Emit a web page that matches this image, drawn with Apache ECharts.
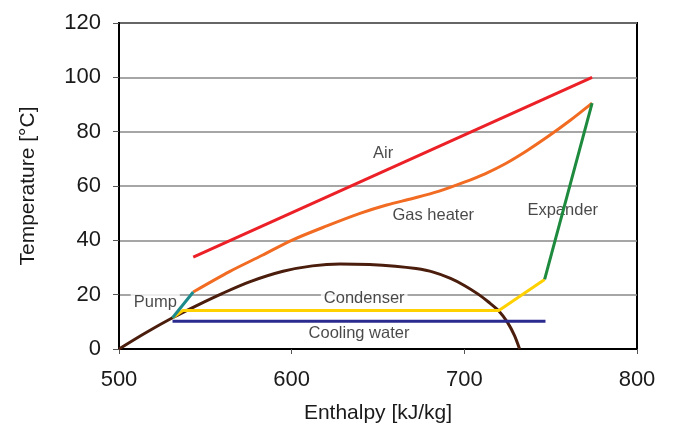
<!DOCTYPE html>
<html>
<head>
<meta charset="utf-8">
<script src="https://cdn.jsdelivr.net/npm/echarts@6/dist/echarts.min.js"></script>
<style>
  html, body { margin: 0; padding: 0; background: #fff; }
  #chart { width: 674px; height: 431px; }
</style>
</head>
<body>
<div id="chart"></div>
<script>
// enthalpy [kJ/kg], temperature [°C]
var dome = [[500,0],[515,5.8],[531,11.5],[545,16],[560,20.5],[576,24.8],[595,28.6],[612,30.6],[628,31.3],[645,31.1],[660,30.5],[672,29.6],[682,28.3],[692,26],[700,23.4],[708,20.2],[714,17.3],[720,14],[725,9.8],[729,5],[732,0]]
var air = [[543,33.8],[774,100]]
var gasHeater = [[543,21],[564,28.5],[583,34.5],[600,40],[620,45.2],[640,50],[655,53],[670,55.4],[685,58],[700,61.4],[712,64.5],[724,68.3],[736,72.9],[748,78],[761,84],[774,90.5]]
var pump = [[531,11.5],[543,21]]
var condenser = [[531,11.5],[537,14.2],[720,14.2],[746.5,25.6]]
var expander = [[746.5,25.6],[774,90.5]]
var coolingWater = [[531,10.2],[747,10.2]]
var labels = [[653,72,'Air'],[682,49,'Gas heater'],[757,51,'Expander'],[521,17.2,'Pump'],[642,18.7,'Condenser'],[639,5.8,'Cooling water']]

var font = '"Liberation Sans", Arial, sans-serif'

var Chart = echarts.init(document.getElementById('chart'))

var line = function (data, color, smooth) {
    return {
        type: 'line',
        data: data,
        showSymbol: false,
        smooth: smooth ? 0.3 : false,
        lineStyle: { color: color, width: 3 },
        silent: true
    }
}

var option = {
    animation: false,
    backgroundColor: '#fff',
    grid: {
        left: 119,
        right: 37,
        top: 23,
        bottom: 82,
        show: true,
        borderColor: '#000',
        borderWidth: 2
    },
    xAxis: {
        type: 'value',
        min: 500,
        max: 800,
        interval: 100,
        name: 'Enthalpy [kJ/kg]',
        nameLocation: 'middle',
        nameGap: 54,
        nameTextStyle: { fontSize: 21, color: '#1a1a1a', fontFamily: font },
        axisLine: { lineStyle: { color: '#000', width: 2 } },
        axisTick: { length: 5, lineStyle: { color: '#555' } },
        axisLabel: { fontSize: 22, color: '#1a1a1a', fontFamily: font, margin: 20 },
        splitLine: { show: false }
    },
    yAxis: {
        type: 'value',
        min: 0,
        max: 120,
        interval: 20,
        name: 'Temperature [°C]',
        nameLocation: 'middle',
        nameGap: 80,
        nameTextStyle: { fontSize: 21, color: '#1a1a1a', fontFamily: font },
        axisLine: { show: true, lineStyle: { color: '#000', width: 2 } },
        axisTick: { show: true, length: 6, lineStyle: { color: '#555' } },
        axisLabel: { fontSize: 22, color: '#1a1a1a', fontFamily: font, margin: 18 },
        splitLine: { lineStyle: { color: '#888', width: 1.5 } }
    },
    series: [
        line(dome, '#4b1d0c', true),
        line(coolingWater, '#2b2a8e'),
        line(air, '#ec2027'),
        line(gasHeater, '#f26b22', true),
        line(condenser, '#ffd100'),
        line(expander, '#1d8a3e'),
        line(pump, '#1c8a8a'),
        {
            type: 'scatter',
            symbolSize: 0,
            silent: true,
            data: labels.map(function (d) { return { value: [d[0], d[1]], name: d[2] } }),
            label: {
                show: true,
                position: 'inside',
                formatter: '{b}',
                fontSize: 16.5,
                color: '#1a1a1a',
                fontFamily: font,
                backgroundColor: '#fff',
                padding: [0, 3]
            }
        }
    ]
}
Chart.setOption(option)
</script>
</body>
</html>
